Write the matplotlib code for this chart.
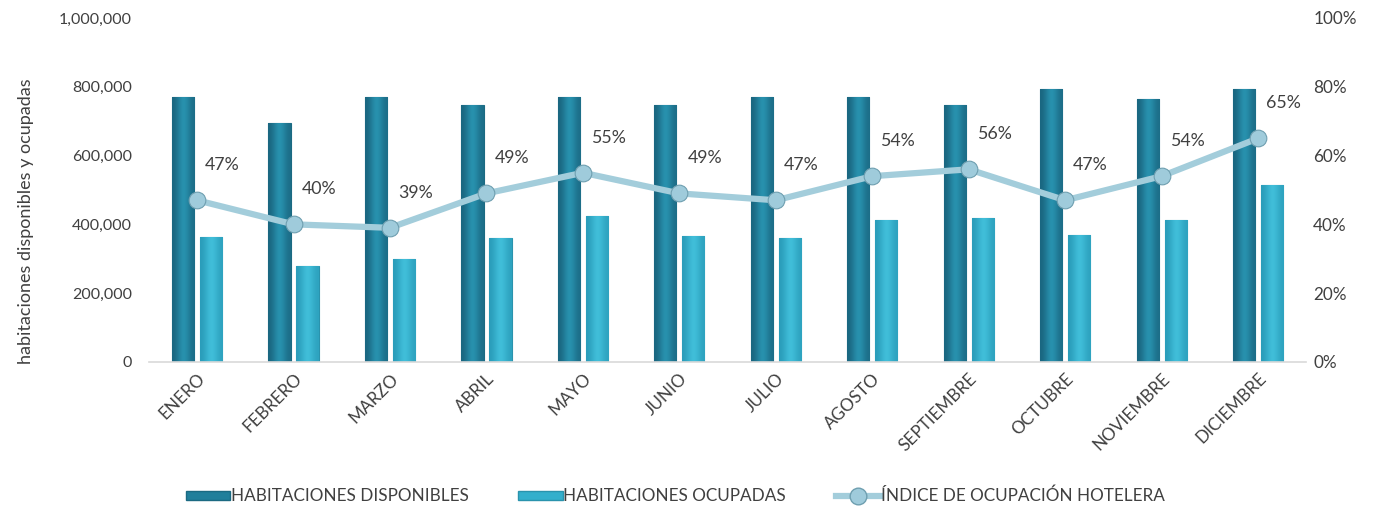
import numpy as np
import matplotlib
matplotlib.use("Agg")
import matplotlib.pyplot as plt
from matplotlib.ticker import FuncFormatter, PercentFormatter
from matplotlib.lines import Line2D
from matplotlib.patches import Patch
from matplotlib.colors import LinearSegmentedColormap

months = ["ENERO", "FEBRERO", "MARZO", "ABRIL", "MAYO", "JUNIO", "JULIO",
          "AGOSTO", "SEPTIEMBRE", "OCTUBRE", "NOVIEMBRE", "DICIEMBRE"]
disponibles = [770000, 696000, 770000, 746000, 770000, 746000, 770000,
               770000, 746000, 792000, 765000, 792000]
ocupadas = [362000, 278000, 298000, 360000, 424000, 366000, 360000,
            414000, 419000, 370000, 412000, 513000]
indice = [0.47, 0.40, 0.39, 0.49, 0.55, 0.49, 0.47, 0.54, 0.56, 0.47, 0.54, 0.65]

plt.rcParams['font.family'] = ['Lato', 'DejaVu Sans']
txt = '#404040'

fig = plt.figure(figsize=(13.78, 5.12), dpi=100)
ax = fig.add_axes([0.108, 0.293, 0.84, 0.672])
ax2 = ax.twinx()

x = np.arange(len(months))
w = 0.23
off = 0.145

def grad_bars(bars, c_dark, c_light):
    cm = LinearSegmentedColormap.from_list('g', [c_dark, c_light])
    grad = np.array([[0.0, 0.5, 1.0, 0.6, 0.15]])
    for b in bars:
        x0, y0 = b.get_x(), b.get_y()
        bw, bh = b.get_width(), b.get_height()
        im = ax.imshow(grad, cmap=cm, aspect='auto', extent=[x0, x0 + bw, y0, y0 + bh],
                       zorder=b.get_zorder() + 0.1, interpolation='bicubic')
        im.set_clip_path(b)

b1 = ax.bar(x - off, disponibles, width=w, color='#217f9b', edgecolor='#1b6a82', linewidth=0.8, zorder=2)
b2 = ax.bar(x + off, ocupadas, width=w, color='#33afcc', edgecolor='#2a93ad', linewidth=0.8, zorder=2)
grad_bars(b1, '#1a6680', '#2a98b5')
grad_bars(b2, '#2a9dba', '#44c3de')

ax.set_xlim(-0.5, len(months) - 0.5)
ax.set_ylim(0, 1000000)
ax.set_yticks(np.arange(0, 1000001, 200000))
ax.yaxis.set_major_formatter(FuncFormatter(lambda v, p: f"{int(v):,}"))
ax.set_xticks(x)
ax.set_xticklabels(months, rotation=45, ha='right', rotation_mode='anchor')
ax.tick_params(axis='y', length=0, labelsize=11.5, colors=txt, pad=12)
ax.tick_params(axis='x', length=0, labelsize=12.3, colors=txt, pad=6)
for s in ['top', 'right', 'left']:
    ax.spines[s].set_visible(False)
ax.spines['bottom'].set_color('#d9d9d9')
ax.spines['bottom'].set_linewidth(1.2)
ax.set_ylabel("habitaciones disponibles y ocupadas", fontsize=13, color=txt)
ax.yaxis.set_label_coords(-0.099, 0.41)

ax2.plot(x, indice, color='#a3cddb', linewidth=4.5, zorder=5,
         marker='o', markersize=12, markerfacecolor='#9fcbdb', markeredgecolor='#6f9fb0',
         markeredgewidth=0.8)
ax2.set_ylim(0, 1.0)
ax2.set_yticks(np.arange(0, 1.01, 0.2))
ax2.yaxis.set_major_formatter(PercentFormatter(1.0, decimals=0))
ax2.tick_params(axis='y', length=0, labelsize=12.3, colors=txt, pad=5)
for s in ['top', 'right', 'left', 'bottom']:
    ax2.spines[s].set_visible(False)
ax2.set_zorder(ax.get_zorder() + 1)
ax2.patch.set_visible(False)

for xi, v in zip(x, indice):
    ax2.annotate(f"{int(round(v * 100))}%", (xi, v), xytext=(8, 35), textcoords='offset pixels',
                 ha='left', va='center', fontsize=12.8, color=txt)

handles = [Patch(facecolor='#217f9b', edgecolor='#1b6a82'),
           Patch(facecolor='#33afcc', edgecolor='#2a93ad'),
           Line2D([0], [0], color='#a3cddb', linewidth=4.5, marker='o', markersize=12,
                  markerfacecolor='#9fcbdb', markeredgecolor='#6f9fb0')]
labels = ["HABITACIONES DISPONIBLES", "HABITACIONES OCUPADAS", "ÍNDICE DE OCUPACIÓN HOTELERA"]
fig.legend(handles, labels, loc='center', bbox_to_anchor=(0.49, 0.031), ncol=3, frameon=False,
           fontsize=12.3, labelcolor=txt, handlelength=2.6, handleheight=0.45, columnspacing=2.9,
           handletextpad=0.05)

fig.savefig("out.png", dpi=100)
